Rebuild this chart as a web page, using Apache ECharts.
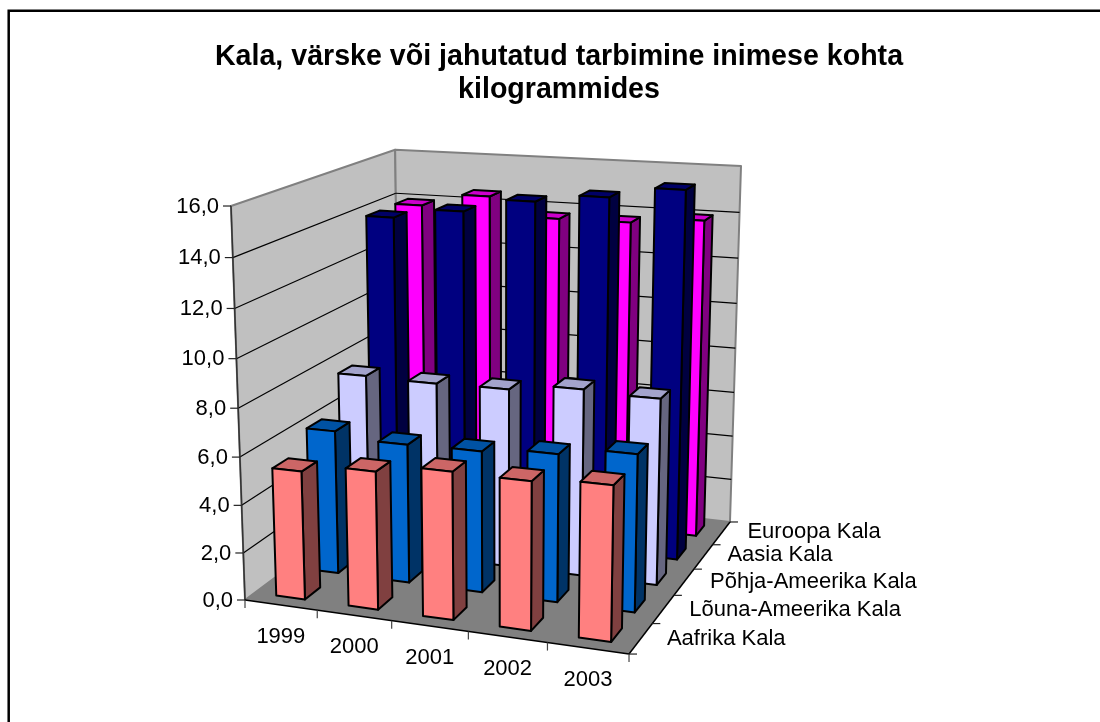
<!DOCTYPE html>
<html>
<head>
<meta charset="utf-8">
<style>html,body{margin:0;padding:0;background:#fff}#chart{width:1100px;height:722px}</style>
<script src="https://cdn.jsdelivr.net/npm/echarts@6/dist/echarts.min.js"></script>
</head>
<body>
<div id="chart"></div>
<script>
var titleText = 'Kala, värske või jahutatud tarbimine inimese kohta\nkilogrammides';
var years = ['1999', '2000', '2001', '2002', '2003'];
var yTicks = [0, 2, 4, 6, 8, 10, 12, 14, 16];
var aafrika = [5.38, 5.72, 6.06, 6.03, 6.22];
var louna = [6.15, 5.90, 5.95, 6.17, 6.50];
var pohja = [7.70, 7.65, 7.69, 7.98, 7.88];
var aasia = [13.92, 14.36, 14.95, 15.30, 15.77];
var euroopa = [13.93, 14.50, 13.69, 13.71, 13.97];
var depthNames = ['Aafrika Kala', 'Lõuna-Ameerika Kala', 'Põhja-Ameerika Kala', 'Aasia Kala', 'Euroopa Kala'];

// Style and layout
var FONT = '22px "Liberation Sans", Arial, sans-serif';
var palette = [
  { front: '#ff8080', top: '#cc6666', side: '#804040' },
  { front: '#0066cc', top: '#0052a3', side: '#003366' },
  { front: '#ccccff', top: '#a3a3cc', side: '#666680' },
  { front: '#000080', top: '#000066', side: '#000040' },
  { front: '#ff00ff', top: '#cc00cc', side: '#800080' }
];
var depthLabelOffset = [[26, 0], [26, 1], [26, 0], [24, -2], [26, -1]];

// Projective camera of the 3D box: u along years, v along depth, h along values
var CAM = {
  a: [338.1, 6.3, -0.073],
  b: [229, -25.6, 0.1855],
  c: [-25.9, -404.6, -0.0515],
  d: [245, 600, 1]
};
function project(u, v, h) {
  var p = [0, 1, 2].map(function (k) {
    return CAM.a[k] * u + CAM.b[k] * v + CAM.c[k] * h + CAM.d[k];
  });
  return [p[0] / p[2], p[1] / p[2]];
}
function poly(points, fill, stroke, lw) {
  return { type: 'polygon', shape: { points: points }, style: { fill: fill, stroke: stroke || null, lineWidth: lw || 0, lineJoin: 'round' } };
}
function seg(p, q, stroke, lw) {
  return { type: 'line', shape: { x1: p[0], y1: p[1], x2: q[0], y2: q[1] }, style: { stroke: stroke, lineWidth: lw } };
}
function label(text, x, y, align) {
  return { type: 'text', style: { text: text, x: x, y: y, font: FONT, fill: '#000', align: align, verticalAlign: 'middle' } };
}
function heightOf(api, value) {
  var cs = api.coord([0, 0])[1], top = api.coord([0, yTicks[yTicks.length - 1]])[1];
  return (cs - api.coord([0, value])[1]) / (cs - top);
}

function renderBox(params, api) {
  var kids = [];
  kids.push(poly([project(0, 0, 0), project(0, 1, 0), project(0, 1, 1), project(0, 0, 1)], '#c0c0c0', '#808080', 2));
  kids.push(poly([project(0, 1, 0), project(1, 1, 0), project(1, 1, 1), project(0, 1, 1)], '#c0c0c0', '#808080', 2));
  kids.push(poly([project(0, 0, 0), project(1, 0, 0), project(1, 1, 0), project(0, 1, 0)], '#808080'));
  yTicks.forEach(function (t) {
    if (t === 0 || t === yTicks[yTicks.length - 1]) return;
    var h = heightOf(api, t);
    kids.push(seg(project(0, 0, h), project(0, 1, h), '#000', 1.2));
    kids.push(seg(project(0, 1, h), project(1, 1, h), '#000', 1.2));
  });
  return { type: 'group', children: kids };
}

function renderBar(depthIndex) {
  return function (params, api) {
    var cs = params.coordSys;
    var cat = api.value(0), val = api.value(1);
    var c = api.coord([cat, val]);
    var uc = (c[0] - cs.x) / cs.width;
    var du = 0.4 * (api.size([1, 0])[0] / cs.width) / 2;
    var h = heightOf(api, val);
    var nV = depthNames.length;
    var v0 = (depthIndex + 0.275) / nV, v1 = (depthIndex + 0.725) / nV;
    var u0 = uc - du, u1 = uc + du;
    var col = palette[depthIndex];
    var s = '#000', w = 2;
    return {
      type: 'group',
      children: [
        poly([project(u1, v0, 0), project(u1, v1, 0), project(u1, v1, h), project(u1, v0, h)], col.side, s, w),
        poly([project(u0, v0, h), project(u1, v0, h), project(u1, v1, h), project(u0, v1, h)], col.top, s, w),
        poly([project(u0, v0, 0), project(u1, v0, 0), project(u1, v0, h), project(u0, v0, h)], col.front, s, w)
      ]
    };
  };
}

function renderAxes(params, api) {
  var kids = [];
  var n = years.length, m = depthNames.length, i;
  kids.push(seg(project(0, 0, 0), project(0, 0, 1), '#333', 1.5));
  kids.push(seg(project(0, 0, 0), project(1, 0, 0), '#000', 1.5));
  kids.push(seg(project(1, 0, 0), project(1, 1, 0), '#000', 1.5));
  yTicks.forEach(function (t) {
    var p = project(0, 0, heightOf(api, t));
    kids.push(seg([p[0] - 8, p[1]], p, '#222', 1.2));
    kids.push(label(t.toFixed(1).replace('.', ','), p[0] - 12, p[1] + 0.5, 'right'));
  });
  for (i = 0; i <= n; i++) {
    var p = project(i / n, 0, 0);
    kids.push(seg(p, [p[0], p[1] + 8], '#444', 1.2));
  }
  years.forEach(function (y, k) {
    var p = project((k + 0.5) / n, 0, 0);
    kids.push(label(y, p[0], p[1] + 32, 'center'));
  });
  for (i = 0; i <= m; i++) {
    var q = project(1, i / m, 0);
    kids.push(seg(q, [q[0] + 8, q[1]], '#222', 1.2));
  }
  depthNames.forEach(function (name, k) {
    var q = project(1, (k + 0.5) / m, 0);
    var o = depthLabelOffset[k];
    kids.push(label(name, q[0] + o[0], q[1] + o[1], 'left'));
  });
  return { type: 'group', children: kids };
}

function pairs(values) {
  return values.map(function (v, i) { return [i, v]; });
}
var seriesValues = [aafrika, louna, pohja, aasia, euroopa];
var series = [{ type: 'custom', name: 'box', silent: true, z: 1, renderItem: renderBox, data: [[0, 0]], encode: { x: 0, y: 1 } }];
for (var d = depthNames.length - 1; d >= 0; d--) {
  series.push({
    type: 'custom', name: depthNames[d], silent: true, z: 2,
    renderItem: renderBar(d), data: pairs(seriesValues[d]), encode: { x: 0, y: 1 }
  });
}
series.push({ type: 'custom', name: 'axes', silent: true, z: 3, renderItem: renderAxes, data: [[0, 0]], encode: { x: 0, y: 1 } });

var chart = echarts.init(document.getElementById('chart'), null, { renderer: 'canvas' });
chart.setOption({
  animation: false,
  backgroundColor: '#fff',
  title: {
    text: titleText, left: 554, top: 36, textAlign: 'center',
    textStyle: { fontFamily: '"Liberation Sans", Arial, sans-serif', fontWeight: 'bold', fontSize: 28.6, lineHeight: 33, color: '#000' }
  },
  grid: { left: 231, top: 206, width: 398, height: 394 },
  xAxis: { type: 'category', data: years, show: false },
  yAxis: { type: 'value', min: 0, max: 16, interval: 2, show: false },
  graphic: [{
    type: 'polyline', silent: true,
    shape: { points: [[8.7, 722], [8.7, 10.7], [1100, 10.7]] },
    style: { stroke: '#000', lineWidth: 2.5, fill: null }
  }],
  series: series
});
</script>
</body>
</html>
